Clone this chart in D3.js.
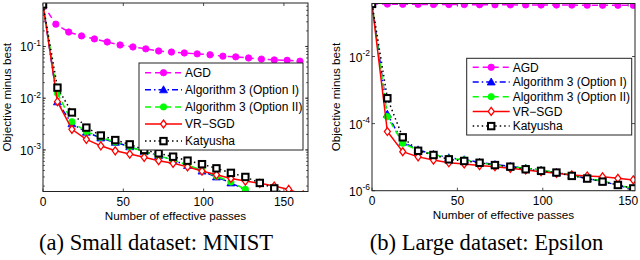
<!DOCTYPE html>
<html>
<head>
<meta charset="utf-8">
<script src="https://cdn.jsdelivr.net/npm/d3@7"></script>
<style>
body { margin: 0; background: #fff; }
text { font-family: "Liberation Sans", Arial, sans-serif; }
</style>
</head>
<body>
<div id="chart"></div>
<script>
// legend names, in drawing order
var methods = ["AGD", "Algorithm 3 (Option I)", "Algorithm 3 (Option II)", "VR\u2212SGD", "Katyusha"];

// (a) MNIST
var mnistAgdPasses = [0, 8, 16, 24, 32, 40, 48, 56, 64, 72, 80, 88, 96, 104, 112, 120, 128, 136, 144, 152, 160];
var mnistAgd = [0.65, 0.27, 0.19, 0.16, 0.14, 0.122, 0.107, 0.098, 0.09, 0.082, 0.078, 0.075, 0.072, 0.069, 0.065, 0.063, 0.06, 0.057, 0.055, 0.054, 0.052];
var mnistPasses = [0, 9, 18, 27, 36, 45, 54, 63, 72, 81, 90, 99, 108, 117, 126, 135, 144, 153, 162];
var mnistOpt1 = [0.65, 0.0085, 0.0032, 0.0022, 0.0017, 0.0014, 0.00115, 0.00093, 0.00078, 0.00063, 0.0005, 0.00039, 0.0003, 0.00023, 0.00017];
var mnistOpt2 = [0.65, 0.0124, 0.0035, 0.00225, 0.00175, 0.00142, 0.00115, 0.00092, 0.00077, 0.00064, 0.00051, 0.0004, 0.00031, 0.00024, 0.000173];
var mnistVr = [0.65, 0.00855, 0.0025, 0.0016, 0.0012, 0.00096, 0.00083, 0.00072, 0.00062, 0.00055, 0.00047, 0.00039, 0.00033, 0.00028, 0.00025, 0.000226, 0.0002, 0.000172, 0.000135];
var mnistKat = [0.65, 0.016, 0.0053, 0.0027, 0.0019, 0.00155, 0.00128, 0.001, 0.00086, 0.00074, 0.00062, 0.00053, 0.00044, 0.00036, 0.0003, 0.00023, 0.00018, 0.00013];

// (b) Epsilon
var epsilonPasses = [0, 9, 18, 27, 36, 45, 54, 63, 72, 81, 90, 99, 108, 117, 126, 135, 144, 153];
var epsilonAgd = [0.37, 0.365, 0.36, 0.358, 0.356, 0.354, 0.352, 0.35, 0.348, 0.346, 0.345, 0.343, 0.342, 0.34, 0.339, 0.337, 0.336, 0.335];
var epsilonOpt1 = [0.37, 1.9e-4, 2.8e-5, 1.65e-5, 1.22e-5, 9.6e-6, 8.4e-6, 7.0e-6, 6.0e-6, 5.3e-6, 4.7e-6, 4.1e-6, 3.5e-6, 2.9e-6, 2.3e-6, 1.9e-6, 1.45e-6, 1.1e-6];
var epsilonOpt2 = [0.37, 1.6e-4, 2.6e-5, 1.6e-5, 1.2e-5, 9.3e-6, 8.3e-6, 6.8e-6, 5.8e-6, 5.2e-6, 4.7e-6, 4.1e-6, 3.45e-6, 2.95e-6, 2.35e-6, 1.95e-6, 1.5e-6, 1.15e-6];
var epsilonVr = [0.37, 5.8e-5, 1.45e-5, 1.02e-5, 8.2e-6, 6.8e-6, 6.25e-6, 5.6e-6, 5.2e-6, 4.65e-6, 4.15e-6, 3.7e-6, 3.3e-6, 2.95e-6, 2.75e-6, 2.6e-6, 2.34e-6, 2.1e-6];
var epsilonKat = [0.37, 5.7e-4, 3.9e-5, 1.55e-5, 1.16e-5, 8.6e-6, 7.7e-6, 6.8e-6, 5.8e-6, 5.2e-6, 4.35e-6, 3.9e-6, 3.47e-6, 2.76e-6, 2.3e-6, 1.86e-6, 1.48e-6, 1.17e-6];

var xTicks = [0, 50, 100, 150];
var mnistYTicks = [1e-1, 1e-2, 1e-3];
var epsilonYTicks = [1e-2, 1e-4, 1e-6];
var captions = ["(a) Small dataset: MNIST", "(b) Large dataset: Epsilon"];

var looks = [
    {color: "#ff00ff", dash: "6,4", marker: "circle"},
    {color: "#0000ff", dash: "6,3,1.5,3", marker: "triangle"},
    {color: "#00ff00", dash: "6,4", marker: "circle"},
    {color: "#ff0000", dash: null, marker: "diamond"},
    {color: "#000000", dash: "1.5,3", marker: "square"}
];

var panels = [
    {x0: 43, x1: 308, y0: 3, y1: 191.5, xmax: 165, ymin: 1.57e-4, ymax: 0.693, yTicks: mnistYTicks, minor: true,
     series: [[mnistAgdPasses, mnistAgd], [mnistPasses, mnistOpt1], [mnistPasses, mnistOpt2], [mnistPasses, mnistVr], [mnistPasses, mnistKat]],
     legend: {x: 139, y: 63, w: 164, h: 87, row0: 72.7, step: 17.1}, ylabX: 10.5, capX: 156, caption: captions[0]},
    {x0: 372, x1: 635, y0: 3.5, y1: 190.7, xmax: 154, ymin: 1e-6, ymax: 0.38, yTicks: epsilonYTicks, minor: false,
     series: [[epsilonPasses, epsilonAgd], [epsilonPasses, epsilonOpt1], [epsilonPasses, epsilonOpt2], [epsilonPasses, epsilonVr], [epsilonPasses, epsilonKat]],
     legend: {x: 466.7, y: 58.3, w: 165, h: 76.7, row0: 67.3, step: 14.7}, ylabX: 340, capX: 486.5, caption: captions[1]}
];

var svg = d3.select("#chart").append("svg")
    .attr("width", 640)
    .attr("height", 260);

function marker(g, type, cx, cy, color) {
    if (type == "circle") {
        g.append("circle").attr("cx", cx).attr("cy", cy).attr("r", 3.2)
            .style("fill", color).style("stroke", color).style("stroke-width", 0.8);
    } else if (type == "triangle") {
        g.append("path").attr("d", "M" + cx + "," + (cy - 4) + "L" + (cx + 4) + "," + (cy + 3) + "L" + (cx - 4) + "," + (cy + 3) + "Z")
            .style("fill", color).style("stroke", color).style("stroke-width", 0.8);
    } else if (type == "diamond") {
        g.append("path").attr("d", "M" + cx + "," + (cy - 4) + "L" + (cx + 3) + "," + cy + "L" + cx + "," + (cy + 4) + "L" + (cx - 3) + "," + cy + "Z")
            .style("fill", "#fff").style("stroke", color).style("stroke-width", 1.3);
    } else {
        g.append("rect").attr("x", cx - 3.2).attr("y", cy - 3.2).attr("width", 6.4).attr("height", 6.4)
            .style("fill", "#fff").style("stroke", color).style("stroke-width", 2);
    }
}

panels.forEach(function(p, pi) {
    var x = d3.scaleLinear().domain([0, p.xmax]).range([p.x0, p.x1]);
    var y = d3.scaleLog().domain([p.ymin, p.ymax]).range([p.y1, p.y0]);
    var g = svg.append("g");

    g.append("clipPath").attr("id", "clip" + pi)
        .append("rect").attr("x", p.x0).attr("y", p.y0)
        .attr("width", p.x1 - p.x0).attr("height", p.y1 - p.y0);

    // ticks on all four sides, pointing in
    var ticks = g.append("g").style("stroke", "#222").style("stroke-width", 0.8);
    xTicks.forEach(function(t) {
        ticks.append("line").attr("x1", x(t)).attr("x2", x(t)).attr("y1", p.y1).attr("y2", p.y1 - 3);
        ticks.append("line").attr("x1", x(t)).attr("x2", x(t)).attr("y1", p.y0).attr("y2", p.y0 + 3);
    });
    p.yTicks.forEach(function(t) {
        ticks.append("line").attr("x1", p.x0).attr("x2", p.x0 + 3).attr("y1", y(t)).attr("y2", y(t));
        ticks.append("line").attr("x1", p.x1).attr("x2", p.x1 - 3).attr("y1", y(t)).attr("y2", y(t));
    });
    if (p.minor) {
        y.ticks().forEach(function(t) {
            ticks.append("line").attr("x1", p.x0).attr("x2", p.x0 + 1.8).attr("y1", y(t)).attr("y2", y(t));
            ticks.append("line").attr("x1", p.x1).attr("x2", p.x1 - 1.8).attr("y1", y(t)).attr("y2", y(t));
        });
    }

    // tick labels
    xTicks.forEach(function(t) {
        g.append("text").attr("x", x(t)).attr("y", p.y1 + 14.5)
            .attr("text-anchor", "middle").style("font-size", "12px").text(t);
    });
    p.yTicks.forEach(function(t) {
        var lab = g.append("text").attr("x", p.x0 - 2).attr("y", y(t) + 5)
            .attr("text-anchor", "end").style("font-size", "12px");
        lab.append("tspan").text("10");
        lab.append("tspan").attr("dy", -5.5).style("font-size", "8.5px").text(Math.round(Math.log10(t)));
    });

    // axis titles
    g.append("text").attr("x", (p.x0 + p.x1) / 2).attr("y", p.y1 + 28)
        .attr("text-anchor", "middle").style("font-size", "11.7px").text("Number of effective passes");
    g.append("text").attr("transform", "translate(" + p.ylabX + "," + ((p.y0 + p.y1) / 2) + ") rotate(-90)")
        .attr("text-anchor", "middle").style("font-size", "11.7px").text("Objective minus best");

    // series
    var plot = g.append("g").attr("clip-path", "url(#clip" + pi + ")");
    p.series.forEach(function(s, si) {
        var look = looks[si];
        var pts = s[1].map(function(v, i) { return [s[0][i], v]; });
        var line = d3.line().x(function(d) { return x(d[0]); }).y(function(d) { return y(d[1]); });
        plot.append("path").attr("d", line(pts))
            .style("fill", "none").style("stroke", look.color).style("stroke-width", 1.5)
            .style("stroke-dasharray", look.dash);
        pts.forEach(function(d) { marker(plot, look.marker, x(d[0]), y(d[1]), look.color); });
    });

    // frame
    g.append("rect").attr("x", p.x0).attr("y", p.y0)
        .attr("width", p.x1 - p.x0).attr("height", p.y1 - p.y0)
        .style("fill", "none").style("stroke", "#222").style("stroke-width", 1);

    // legend
    var L = p.legend;
    var leg = g.append("g");
    leg.append("rect").attr("x", L.x).attr("y", L.y).attr("width", L.w).attr("height", L.h)
        .style("fill", "#fff").style("stroke", "#222").style("stroke-width", 1);
    methods.forEach(function(name, i) {
        var ry = L.row0 + i * L.step;
        var look = looks[i];
        leg.append("line").attr("x1", L.x + 6).attr("x2", L.x + 43).attr("y1", ry).attr("y2", ry)
            .style("stroke", look.color).style("stroke-width", 1.5).style("stroke-dasharray", look.dash);
        marker(leg, look.marker, L.x + 24.5, ry, look.color);
        leg.append("text").attr("x", L.x + 46).attr("y", ry + 4.3)
            .style("font-size", "12px").text(name);
    });

    // caption
    g.append("text").attr("x", p.capX).attr("y", 250)
        .attr("text-anchor", "middle")
        .style("font-family", "'Liberation Serif', serif").style("font-size", "22.6px")
        .text(p.caption);
});
</script>
</body>
</html>
